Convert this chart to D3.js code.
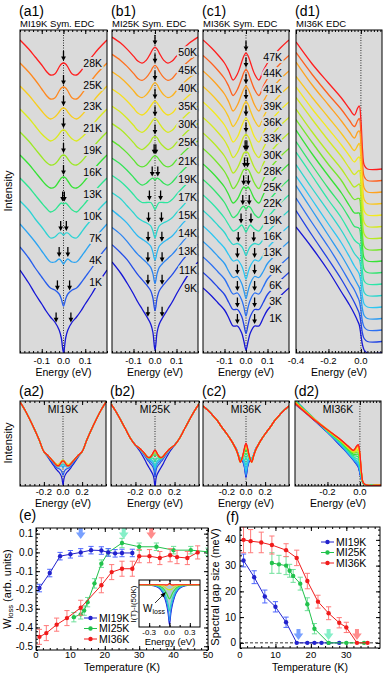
<!DOCTYPE html>
<html>
<head>
<meta charset="utf-8">
<script src="https://cdn.jsdelivr.net/npm/d3@7"></script>
<style>
body { margin: 0; background: #fff; }
svg { display: block; font-family: "Liberation Sans", Arial, sans-serif; }
</style>
</head>
<body>
<script>
// ---------- data ----------
// symmetrized EDCs: depth below the value at |E| = 0.2 eV, on a half grid
var halfE = [0, 0.01, 0.02, 0.04, 0.06, 0.08, 0.10, 0.13, 0.16, 0.20];
var wingE = [0.20, 0.25, 0.30, 0.35, 0.40, 0.45];

var a1Temps = ["28K", "25K", "23K", "21K", "19K", "16K", "13K", "10K", "7K", "4K", "1K"];
var a1Depth = [
  [23, 24, 27, 34, 35, 31, 25, 17, 9, 0],
  [24, 25, 28, 35, 36, 32, 26, 17, 9, 0],
  [22, 23, 26, 31, 33, 30, 25, 17, 9, 0],
  [21, 22, 25, 30, 32, 29, 25, 17, 9, 0],
  [23, 24, 27, 32, 33, 30, 25, 17, 9, 0],
  [22, 23, 26, 32, 33, 30, 25, 17, 9, 0],
  [26, 25, 27, 32, 34, 30, 25, 17, 9, 0],
  [34, 32, 32, 36, 37, 32, 26, 18, 9, 0],
  [40, 37, 35, 38, 38, 33, 27, 18, 10, 0],
  [59, 52, 47, 43, 41, 36, 30, 21, 11, 0],
  [83, 68, 60, 52, 47, 41, 34, 24, 13, 0]
];
var a1Gap = [0, 0, 0, 0, 0, 0, 0.004, 0.013, 0.02, 0.028, 0.034];
var a2Wing = [0, 30, 57, 82, 105, 125];

var b1Temps = ["50K", "45K", "40K", "35K", "30K", "25K", "21K", "19K", "17K", "15K", "14K", "13K", "11K", "9K"];
var b1Depth = [
  [10, 12, 16, 23, 26, 24, 19, 12, 6, 0],
  [11, 13, 17, 23, 26, 24, 19, 12, 6, 0],
  [11, 13, 17, 23, 26, 24, 19, 12, 6, 0],
  [12, 14, 17, 23, 26, 24, 19, 12, 6, 0],
  [12, 14, 17, 23, 26, 24, 19, 12, 6, 0],
  [13, 14, 18, 23, 26, 24, 19, 12, 6, 0],
  [15, 16, 19, 24, 26, 24, 19, 12, 6, 0],
  [22, 20, 21, 25, 27, 24, 19, 12, 6, 0],
  [34, 30, 27, 27, 27, 24, 19, 12, 6, 0],
  [45, 38, 33, 30, 28, 25, 20, 13, 6, 0],
  [50, 42, 36, 32, 29, 26, 21, 13, 7, 0],
  [56, 46, 40, 35, 31, 27, 22, 14, 7, 0],
  [66, 53, 46, 40, 35, 30, 24, 15, 8, 0],
  [88, 70, 62, 54, 47, 40, 32, 21, 11, 0]
];
var b1Gap = [0, 0, 0, 0, 0, 0, 0.004, 0.013, 0.026, 0.03, 0.032, 0.033, 0.033, 0.033];
var b2Wing = [0, 14, 33, 52, 70, 86];

var c1Temps = ["47K", "44K", "41K", "39K", "36K", "33K", "30K", "28K", "25K", "22K", "19K", "16K", "13K", "9K", "6K", "3K", "1K"];
var c1Depth = [
  [13, 16, 22, 34, 40, 31, 23, 15, 8, 0],
  [14, 17, 23, 34, 40, 31, 23, 15, 8, 0],
  [15, 18, 23, 34, 40, 31, 23, 15, 8, 0],
  [15, 18, 24, 34, 40, 31, 23, 15, 8, 0],
  [16, 19, 24, 35, 40, 31, 23, 15, 8, 0],
  [17, 19, 24, 35, 40, 31, 23, 15, 8, 0],
  [19, 20, 25, 35, 40, 31, 23, 15, 8, 0],
  [21, 21, 25, 35, 40, 31, 23, 15, 8, 0],
  [25, 23, 26, 35, 39, 31, 23, 15, 8, 0],
  [30, 27, 28, 35, 38, 31, 23, 15, 8, 0],
  [37, 33, 30, 34, 36, 30, 23, 15, 8, 0],
  [45, 40, 36, 33, 34, 29, 22, 15, 8, 0],
  [53, 46, 40, 34, 35, 29, 22, 15, 8, 0],
  [57, 49, 42, 35, 36, 30, 22, 15, 8, 0],
  [59, 50, 43, 36, 37, 30, 22, 15, 8, 0],
  [61, 52, 44, 37, 37, 30, 22, 15, 8, 0],
  [62, 53, 45, 38, 38, 30, 22, 15, 8, 0]
];
var c1Gap = [0, 0, 0, 0, 0, 0, 0.004, 0.007, 0.011, 0.015, 0.023, 0.036, 0.04, 0.04, 0.04, 0.04, 0.04];
var c2Wing = [0, 9, 19, 27, 34, 40];

// raw EDCs of MI36K: height above the tail beyond EF
var d1E = [-0.40, -0.30, -0.20, -0.12, -0.07, -0.04, -0.02, -0.01, 0.0, 0.01, 0.02, 0.04, 0.13];
var d1Height = [
  [127, 105, 86, 71, 60, 54, 61, 63, 49, 19, 4, 0, 0],
  [128, 106, 86, 71, 60, 54, 60, 62, 48, 19, 4, 0, 0],
  [130, 107, 87, 71, 60, 54, 60, 61, 47, 18, 4, 0, 0],
  [127, 106, 86, 70, 59, 53, 58, 60, 46, 18, 4, 0, 0],
  [128, 106, 86, 70, 59, 53, 57, 58, 45, 18, 4, 0, 0],
  [129, 107, 86, 70, 58, 52, 55, 56, 43, 17, 4, 0, 0],
  [129, 106, 85, 69, 57, 51, 53, 54, 41, 16, 4, 0, 0],
  [130, 107, 85, 69, 56, 50, 51, 51, 39, 15, 3, 0, 0],
  [131, 107, 85, 68, 55, 48, 48, 48, 37, 14, 3, 0, 0],
  [131, 107, 84, 67, 54, 46, 45, 44, 34, 13, 3, 0, 0],
  [132, 108, 84, 66, 52, 44, 41, 40, 31, 12, 3, 0, 0],
  [131, 107, 84, 65, 51, 42, 38, 36, 28, 11, 3, 0, 0],
  [131, 107, 83, 64, 50, 41, 36, 33, 25, 10, 3, 0, 0],
  [133, 108, 83, 63, 49, 40, 34, 31, 22, 9, 3, 0, 0],
  [132, 107, 83, 62, 48, 40, 33, 29, 20, 8, 3, 0, 0],
  [131, 106, 82, 62, 48, 39, 32, 28, 19, 8, 3, 0, 0],
  [126, 105, 82, 61, 48, 39, 32, 28, 18, 8, 3, 0, 0]
];

// (e) spectral weight loss
var eT19 = [1, 4, 7, 10, 13, 16, 19, 21, 23, 25, 28];
var eW19 = [-0.19, -0.11, -0.02, -0.01, 0.0, 0.012, 0.01, 0.0, -0.005, -0.003, -0.003];
var eE19 = [0.02, 0.02, 0.02, 0.02, 0.02, 0.02, 0.02, 0.02, 0.02, 0.02, 0.02];
var eT25 = [11, 13, 14, 15, 17, 19, 21, 25, 30, 35, 40, 45, 50];
var eW25 = [-0.345, -0.33, -0.31, -0.265, -0.165, -0.06, 0.0, 0.05, 0.03, 0.03, 0.012, 0.012, 0.003];
var eE25 = [0.025, 0.025, 0.025, 0.025, 0.025, 0.02, 0.02, 0.025, 0.02, 0.02, 0.02, 0.02, 0.02];
var eT36 = [1, 3, 6, 9, 13, 19, 22, 25, 28, 30, 33, 36, 39, 41, 44, 47];
var eW36 = [-0.45, -0.43, -0.385, -0.35, -0.295, -0.175, -0.105, -0.087, -0.087, -0.02, -0.02, -0.03, -0.015, -0.025, -0.03, 0.0];
var eE36 = [0.04, 0.04, 0.035, 0.04, 0.04, 0.04, 0.04, 0.04, 0.04, 0.035, 0.035, 0.035, 0.035, 0.035, 0.035, 0.035];
var eMarkT = [13, 25.5, 33.5];

// inset of (e): I(T) - I(50K)
var insetE = [0, 0.02, 0.04, 0.07, 0.10, 0.15, 0.20, 0.30, 0.45];
var insetTemps = ["1K", "9K", "16K", "22K", "28K", "36K", "44K"];
var insetDiff = [
  [-1.0, -0.72, -0.52, -0.33, -0.2, -0.09, -0.04, -0.01, 0],
  [-0.9, -0.62, -0.45, -0.28, -0.17, -0.07, -0.03, -0.01, 0],
  [-0.65, -0.48, -0.35, -0.22, -0.13, -0.05, -0.02, 0, 0],
  [-0.35, -0.3, -0.22, -0.14, -0.08, -0.03, -0.01, 0, 0],
  [-0.12, -0.12, -0.1, -0.06, -0.03, -0.01, 0, 0, 0],
  [0.02, 0, -0.02, -0.01, 0, 0, 0, 0, 0],
  [0.03, 0.01, 0, 0, 0, 0, 0, 0, 0]
];

// (f) spectral gap size
var fT19 = [1, 4, 7, 10, 13, 16, 19, 21, 23, 25, 28];
var fG19 = [32, 25.5, 18, 14, 8, 0, 0, 0, 0, 0, 0];
var fE19 = [2.5, 2.5, 2.5, 2, 2, 0, 0, 0, 0, 0, 0];
var fT25 = [9, 11, 13, 14, 15, 17, 19, 21, 25, 30, 35];
var fG25 = [31, 30.5, 30, 28, 26, 23, 15, 5.5, 0, 0, 0];
var fE25 = [4, 3.5, 3.5, 2.5, 2.5, 2.5, 2.5, 2, 0, 0, 0];
var fT36 = [1, 3, 6, 9, 13, 16, 19, 22, 25, 28, 30, 33, 36];
var fG36 = [40, 39.5, 39, 38, 36, 33, 24, 16, 11.5, 7.8, 6, 0, 0];
var fE36 = [5, 4.5, 4, 3.5, 2.5, 3, 3, 2.5, 2.5, 2, 2, 0, 0];
var fMarkT = [16.5, 25, 33];

var seriesNames = ["MI19K", "MI25K", "MI36K"];

// ---------- drawing ----------
var svg = d3.select("body").append("svg").attr("width", 388).attr("height", 676);
var defs = svg.append("defs");
var panelBg = "#dadada";
var rainbow = d3.piecewise(d3.interpolateRgb, ["#1616d6", "#2c70f2", "#2cc6f2", "#2ce6a8", "#36e236", "#b6ea20", "#f4ea1e", "#ffa21e", "#ff1e1e"]);
function tColor(i, n) { return rainbow(1 - i / (n - 1)); }
function fmt1(v) { return d3.format(".1f")(v).replace("\u2212", "-"); }
var smooth = d3.curveCatmullRom.alpha(0.5);
var clipN = 0;

function mirror(es, vs) {
  var pts = [];
  for (var k = es.length - 1; k > 0; k--) pts.push([-es[k], vs[k]]);
  for (var k = 0; k < es.length; k++) pts.push([es[k], vs[k]]);
  return pts;
}

function frameTicks(g, xs, ys, xMinor, xMajor, yMinor, yMajor) {
  var yb = ys.range()[0], yt = ys.range()[1], xl = xs.range()[0], xr = xs.range()[1];
  function add(axis, tr, vals, len) {
    if (!vals) return;
    g.append("g").attr("transform", tr)
      .call(axis.tickValues(vals).tickSize(-len).tickFormat(""))
      .call(function (s) { s.select(".domain").remove(); });
  }
  add(d3.axisBottom(xs), "translate(0," + yb + ")", xMinor, 2);
  add(d3.axisBottom(xs), "translate(0," + yb + ")", xMajor, 4);
  add(d3.axisTop(xs), "translate(0," + yt + ")", xMinor, 2);
  add(d3.axisTop(xs), "translate(0," + yt + ")", xMajor, 4);
  add(d3.axisLeft(ys), "translate(" + xl + ",0)", yMinor, 2);
  add(d3.axisLeft(ys), "translate(" + xl + ",0)", yMajor, 4);
  add(d3.axisRight(ys), "translate(" + xr + ",0)", yMinor, 2);
  add(d3.axisRight(ys), "translate(" + xr + ",0)", yMajor, 4);
}

function clipFor(xs, ys) {
  var id = "clip" + (clipN++);
  var x0 = xs.range()[0], x1 = xs.range()[1], y0 = ys.range()[1], y1 = ys.range()[0];
  defs.append("clipPath").attr("id", id).append("rect")
    .attr("x", x0).attr("y", y0).attr("width", x1 - x0).attr("height", y1 - y0);
  return "url(#" + id + ")";
}

function energyPanel(g, xs, ys, labels, minorCount, labelY, titleY) {
  var x0 = xs.range()[0], x1 = xs.range()[1], y0 = ys.range()[1], y1 = ys.range()[0];
  g.append("rect").attr("x", x0).attr("y", y0).attr("width", x1 - x0).attr("height", y1 - y0).attr("fill", panelBg);
  g.append("line").attr("x1", xs(0)).attr("x2", xs(0)).attr("y1", y0).attr("y2", y1)
    .attr("stroke", "#000").attr("stroke-width", 0.8).attr("stroke-dasharray", "1,1.5");
  frameTicks(g, xs, ys, xs.ticks(minorCount), labels);
  g.selectAll(null).data(labels).enter().append("text")
    .attr("x", function (d) { return xs(d); }).attr("y", labelY)
    .attr("text-anchor", "middle").attr("font-size", 9.5).text(fmt1);
  g.append("text").attr("x", (x0 + x1) / 2).attr("y", titleY).attr("text-anchor", "middle")
    .attr("font-size", 10.5).text("Energy (eV)");
}

function outline(g, xs, ys) {
  var x0 = xs.range()[0], x1 = xs.range()[1], y0 = ys.range()[1], y1 = ys.range()[0];
  g.append("rect").attr("x", x0).attr("y", y0).attr("width", x1 - x0).attr("height", y1 - y0)
    .attr("fill", "none").attr("stroke", "#000").attr("stroke-width", 1);
}

function downArrow(g, x, tip) {
  g.append("line").attr("x1", x).attr("x2", x).attr("y1", tip - 10).attr("y2", tip - 3)
    .attr("stroke", "#000").attr("stroke-width", 1.3);
  g.append("path").attr("d", "M" + (x - 2.4) + "," + (tip - 4.6) + "L" + (x + 2.4) + "," + (tip - 4.6) + "L" + x + "," + tip + "Z")
    .attr("fill", "#000");
}

function haloText(g, x, y, anchor, size, txt) {
  return g.append("text").attr("x", x).attr("y", y).attr("dy", "0.35em").attr("text-anchor", anchor)
    .attr("font-size", size).attr("fill", "#000")
    .attr("stroke", panelBg).attr("stroke-width", 4).attr("stroke-linejoin", "round")
    .attr("paint-order", "stroke").text(txt);
}

var topYs = d3.scaleLinear().domain([0, 323]).range([353, 30]);

function stackPanel(cfg, temps, depth, gaps) {
  var g = svg.append("g");
  var xs = d3.scaleLinear().domain([-0.2, 0.2]).range(cfg.x);
  var ys = topYs;
  energyPanel(g, xs, ys, [-0.1, 0, 0.1], 20, 364, 376);
  var n = temps.length;
  var line = d3.line().x(function (d) { return xs(d[0]); }).y(function (d) { return ys(d[1]); }).curve(smooth);
  var cg = g.append("g").attr("clip-path", clipFor(xs, ys));
  temps.forEach(function (t, i) {
    var off = cfg.base + (n - 1 - i) * cfg.step;
    var vals = depth[i].map(function (v) { return off - v; });
    cg.append("path").attr("d", line(mirror(halfE, vals))).attr("fill", "none")
      .attr("stroke", tColor(i, n)).attr("stroke-width", 1.3);
  });
  temps.forEach(function (t, i) {
    var off = cfg.base + (n - 1 - i) * cfg.step;
    var f = d3.scaleLinear().domain(halfE).range(depth[i]);
    var list = gaps[i] === 0 ? [0] : [-gaps[i], gaps[i]];
    list.forEach(function (e) { downArrow(g, xs(e), ys(off - f(Math.abs(e))) - 2); });
  });
  var ly = d3.scaleLinear().domain([0, n - 1]).range(cfg.labelY);
  temps.forEach(function (t, i) { haloText(g, cfg.labelX, ly(i), "end", 10.5, t); });
  outline(g, xs, ys);
  g.append("text").attr("x", cfg.x[0] - 1).attr("y", 16).attr("font-size", 14).text(cfg.tag);
  g.append("text").attr("x", cfg.x[0]).attr("y", 27).attr("font-size", 9.5).text(cfg.title);
}

function overlayPanel(cfg, depth, wing) {
  var g = svg.append("g");
  var xs = d3.scaleLinear().domain([-0.45, 0.45]).range(cfg.x);
  var ys = d3.scaleLinear().domain(cfg.yDom).range([486, 401]);
  energyPanel(g, xs, ys, [-0.2, 0, 0.2], 18, 495, 507);
  var line = d3.line().x(function (d) { return xs(d[0]); }).y(function (d) { return ys(d[1]); }).curve(smooth);
  var cg = g.append("g").attr("clip-path", clipFor(xs, ys));
  var n = depth.length;
  var es = halfE.concat(wingE.slice(1));
  for (var i = n - 1; i >= 0; i--) {
    var vals = depth[i].map(function (v) { return -v; }).concat(wing.slice(1));
    cg.append("path").attr("d", line(mirror(es, vals))).attr("fill", "none")
      .attr("stroke", tColor(i, n)).attr("stroke-width", 1.2);
  }
  haloText(g, (cfg.x[0] + cfg.x[1]) / 2, 409, "middle", 10.5, cfg.name);
  outline(g, xs, ys);
  g.append("text").attr("x", cfg.x[0] - 1).attr("y", 396).attr("font-size", 14).text(cfg.tag);
}

// top row
stackPanel({ x: [20, 107], base: 83, step: 23, labelX: 102, labelY: [63, 282], tag: "(a1)", title: "MI19K Sym. EDC" }, a1Temps, a1Depth, a1Gap);
stackPanel({ x: [112, 198], base: 91, step: 17.3, labelX: 197, labelY: [52, 288], tag: "(b1)", title: "MI25K Sym. EDC" }, b1Temps, b1Depth, b1Gap);
stackPanel({ x: [203, 289], base: 65, step: 15.5, labelX: 282, labelY: [57, 318], tag: "(c1)", title: "MI36K Sym. EDC" }, c1Temps, c1Depth, c1Gap);

// (d1) raw EDCs
(function () {
  var g = svg.append("g");
  var xs = d3.scaleLinear().domain([-0.4, 0.13]).range([296, 382]);
  var ys = topYs;
  energyPanel(g, xs, ys, [-0.4, -0.2, 0], 27, 364, 376);
  var line = d3.line().x(function (d) { return xs(d[0]); }).y(function (d) { return ys(d[1]); }).curve(smooth);
  var cg = g.append("g").attr("clip-path", clipFor(xs, ys));
  var n = d1Height.length;
  d1Height.forEach(function (h, i) {
    var off = (n - 1 - i) * 11.5;
    var pts = d1E.map(function (e, k) { return [e, off + h[k]]; });
    cg.append("path").attr("d", line(pts)).attr("fill", "none").attr("stroke", tColor(i, n)).attr("stroke-width", 1.3);
  });
  outline(g, xs, ys);
  g.append("text").attr("x", 295).attr("y", 16).attr("font-size", 14).text("(d1)");
  g.append("text").attr("x", 296).attr("y", 27).attr("font-size", 9.5).text("MI36K EDC");
})();

// second row
overlayPanel({ x: [20, 106], yDom: [-86, 127], name: "MI19K", tag: "(a2)" }, a1Depth, a2Wing);
overlayPanel({ x: [111, 199], yDom: [-85, 92], name: "MI25K", tag: "(b2)" }, b1Depth, b2Wing);
overlayPanel({ x: [203, 289], yDom: [-74, 47], name: "MI36K", tag: "(c2)" }, c1Depth, c2Wing);

(function () {
  var g = svg.append("g");
  var xs = d3.scaleLinear().domain([-0.4, 0.13]).range([295, 381]);
  var ys = d3.scaleLinear().domain([-1.5, 131]).range([486, 401]);
  energyPanel(g, xs, ys, [-0.2, 0], 27, 495, 507);
  var line = d3.line().x(function (d) { return xs(d[0]); }).y(function (d) { return ys(d[1]); }).curve(smooth);
  var cg = g.append("g").attr("clip-path", clipFor(xs, ys));
  var n = d1Height.length;
  for (var i = n - 1; i >= 0; i--) {
    var h = d1Height[i];
    var pts = d1E.map(function (e, k) { return [e, h[k]]; });
    cg.append("path").attr("d", line(pts)).attr("fill", "none").attr("stroke", tColor(i, n)).attr("stroke-width", 1.2);
  }
  haloText(g, 338, 409, "middle", 10.5, "MI36K");
  outline(g, xs, ys);
  g.append("text").attr("x", 294).attr("y", 396).attr("font-size", 14).text("(d2)");
})();

svg.append("text").attr("transform", "translate(12,191) rotate(-90)").attr("text-anchor", "middle").attr("font-size", 11).text("Intensity");
svg.append("text").attr("transform", "translate(12,443) rotate(-90)").attr("text-anchor", "middle").attr("font-size", 11).text("Intensity");

// ---------- (e) and (f) ----------
var serLine = ["#2222cc", "#22c24c", "#f01c1c"];
var serBar = ["#4d66ff", "#6fe09a", "#ff7a7a"];
var markFill = ["#78a0ff", "#86efc8", "#ff8c8c"];

function blockArrow(g, x, top, col) {
  g.append("path").attr("d", "M" + (x - 2) + "," + top + "L" + (x + 2) + "," + top + "L" + (x + 2) + "," + (top + 4.5) +
    "L" + (x + 4.8) + "," + (top + 4.5) + "L" + x + "," + (top + 11) + "L" + (x - 4.8) + "," + (top + 4.5) +
    "L" + (x - 2) + "," + (top + 4.5) + "Z").attr("fill", col);
}

function drawSeries(g, xs, ys, T, V, E, i) {
  var pts = T.map(function (t, k) { return { t: t, v: V[k], e: E[k] }; });
  pts.forEach(function (p) {
    if (p.e <= 0) return;
    var x = xs(p.t), a = ys(p.v + p.e), b = ys(p.v - p.e);
    g.append("line").attr("x1", x).attr("x2", x).attr("y1", a).attr("y2", b).attr("stroke", serBar[i]).attr("stroke-width", 1);
    g.append("line").attr("x1", x - 2.6).attr("x2", x + 2.6).attr("y1", a).attr("y2", a).attr("stroke", serBar[i]).attr("stroke-width", 1);
    g.append("line").attr("x1", x - 2.6).attr("x2", x + 2.6).attr("y1", b).attr("y2", b).attr("stroke", serBar[i]).attr("stroke-width", 1);
  });
  g.append("path").datum(pts).attr("fill", "none").attr("stroke", serLine[i]).attr("stroke-width", 1)
    .attr("d", d3.line().x(function (d) { return xs(d.t); }).y(function (d) { return ys(d.v); }));
  g.selectAll(null).data(pts).enter().append("circle")
    .attr("cx", function (d) { return xs(d.t); }).attr("cy", function (d) { return ys(d.v); })
    .attr("r", 2.2).attr("fill", serLine[i]);
}

function legend(g, x, ys) {
  seriesNames.forEach(function (nm, i) {
    g.append("line").attr("x1", x).attr("x2", x + 13).attr("y1", ys[i]).attr("y2", ys[i]).attr("stroke", serLine[i]);
    g.append("circle").attr("cx", x + 6.5).attr("cy", ys[i]).attr("r", 2.2).attr("fill", serLine[i]);
    g.append("text").attr("x", x + 15).attr("y", ys[i]).attr("dy", "0.35em").attr("font-size", 10.5).text(nm);
  });
}

(function () {
  var g = svg.append("g");
  var xs = d3.scaleLinear().domain([0, 50]).range([36, 208]);
  var ys = d3.scaleLinear().domain([-0.52, 0.13]).range([650, 528]);
  g.append("rect").attr("x", 36).attr("y", 528).attr("width", 172).attr("height", 122).attr("fill", "#fff");
  frameTicks(g, xs, ys, xs.ticks(25), [0, 10, 20, 30, 40, 50], ys.ticks(30), [0.1, 0, -0.1, -0.2, -0.3, -0.4, -0.5]);
  var cg = g.append("g").attr("clip-path", clipFor(xs, ys));
  drawSeries(cg, xs, ys, eT25, eW25, eE25, 1);
  drawSeries(cg, xs, ys, eT36, eW36, eE36, 2);
  drawSeries(cg, xs, ys, eT19, eW19, eE19, 0);
  eMarkT.forEach(function (t, i) { blockArrow(g, xs(t), 528, markFill[i]); });

  // inset
  var ix = d3.scaleLinear().domain([-0.45, 0.45]).range([139, 200]);
  var iy = d3.scaleLinear().domain([-1.05, 0.12]).range([627, 580]);
  g.append("rect").attr("x", 139).attr("y", 580).attr("width", 61).attr("height", 47).attr("fill", "#fff");
  var il = d3.line().x(function (d) { return ix(d[0]); }).y(function (d) { return iy(d[1]); }).curve(smooth);
  var ig = g.append("g").attr("clip-path", clipFor(ix, iy));
  ig.append("path").attr("d", il(mirror(insetE, insetDiff[0])) + "Z").attr("fill", "#b3c6da").attr("stroke", "none");
  insetDiff.forEach(function (d, i) {
    ig.append("path").attr("d", il(mirror(insetE, d))).attr("fill", "none")
      .attr("stroke", tColor(insetDiff.length - 1 - i, insetDiff.length)).attr("stroke-width", 1.1);
  });
  frameTicks(g, ix, iy, [-0.3, -0.15, 0, 0.15, 0.3], [-0.3, 0, 0.3]);
  outline(g, ix, iy);
  g.selectAll(null).data([-0.3, 0, 0.3]).enter().append("text")
    .attr("x", function (d) { return ix(d); }).attr("y", 634.5).attr("text-anchor", "middle").attr("font-size", 8).text(fmt1);
  g.append("text").attr("x", 170).attr("y", 644.5).attr("text-anchor", "middle").attr("font-size", 9.5).text("Energy (eV)");
  g.append("text").attr("transform", "translate(136,604) rotate(-90)").attr("text-anchor", "middle").attr("font-size", 8).text("I(T)-I(50K)");
  var wt = g.append("text").attr("x", 143).attr("y", 612).attr("font-size", 10).text("W");
  wt.append("tspan").attr("font-size", 7).attr("dy", 2).text("loss");
  g.append("line").attr("x1", 155).attr("y1", 603).attr("x2", 164).attr("y2", 594).attr("stroke", "#000").attr("stroke-width", 0.8);
  g.append("path").attr("d", "M166,592 L160.5,594.5 L163.5,597.5 Z").attr("fill", "#000");

  legend(g, 84, [618, 628.5, 639]);
  outline(g, xs, ys);
  g.selectAll(null).data([0, 10, 20, 30, 40, 50]).enter().append("text")
    .attr("x", function (d) { return xs(d); }).attr("y", 658).attr("text-anchor", "middle").attr("font-size", 9.5).text(String);
  g.selectAll(null).data([0.1, 0, -0.1, -0.2, -0.3, -0.4, -0.5]).enter().append("text")
    .attr("x", 33).attr("y", function (d) { return ys(d); }).attr("dy", "0.35em").attr("text-anchor", "end").attr("font-size", 10).text(fmt1);
  g.append("text").attr("x", 122).attr("y", 671).attr("text-anchor", "middle").attr("font-size", 10.5).text("Temperature (K)");
  var yl = g.append("text").attr("transform", "translate(11,589) rotate(-90)").attr("text-anchor", "middle").attr("font-size", 11).text("W");
  yl.append("tspan").attr("font-size", 7.5).attr("dy", 2).text("loss");
  yl.append("tspan").attr("dy", -2).text(" (arb. units)");
  g.append("text").attr("x", 19).attr("y", 520).attr("font-size", 14).text("(e)");
})();

(function () {
  var g = svg.append("g");
  var xs = d3.scaleLinear().domain([0, 39.5]).range([240, 380]);
  var ys = d3.scaleLinear().domain([-2, 45]).range([648, 527]);
  g.append("rect").attr("x", 240).attr("y", 527).attr("width", 140).attr("height", 121).attr("fill", "#fff");
  frameTicks(g, xs, ys, xs.ticks(20), [0, 10, 20, 30], ys.ticks(25), [0, 10, 20, 30, 40]);
  g.append("line").attr("x1", 240).attr("x2", 380).attr("y1", ys(0)).attr("y2", ys(0))
    .attr("stroke", "#000").attr("stroke-width", 0.8).attr("stroke-dasharray", "3,2");
  var cg = g.append("g").attr("clip-path", clipFor(xs, ys));
  drawSeries(cg, xs, ys, fT19, fG19, fE19, 0);
  drawSeries(cg, xs, ys, fT25, fG25, fE25, 1);
  drawSeries(cg, xs, ys, fT36, fG36, fE36, 2);
  fMarkT.forEach(function (t, i) { blockArrow(g, xs(t), 629, markFill[i]); });
  legend(g, 321, [542, 552.5, 563]);
  outline(g, xs, ys);
  g.selectAll(null).data([0, 10, 20, 30]).enter().append("text")
    .attr("x", function (d) { return xs(d); }).attr("y", 658).attr("text-anchor", "middle").attr("font-size", 9.5).text(String);
  g.selectAll(null).data([0, 10, 20, 30, 40]).enter().append("text")
    .attr("x", 236).attr("y", function (d) { return ys(d); }).attr("dy", "0.35em").attr("text-anchor", "end").attr("font-size", 10).text(String);
  g.append("text").attr("x", 310).attr("y", 671).attr("text-anchor", "middle").attr("font-size", 10.5).text("Temperature (K)");
  g.append("text").attr("transform", "translate(219,587) rotate(-90)").attr("text-anchor", "middle").attr("font-size", 11).text("Spectral gap size (meV)");
  g.append("text").attr("x", 226).attr("y", 522).attr("font-size", 14).text("(f)");
})();
</script>
</body>
</html>
